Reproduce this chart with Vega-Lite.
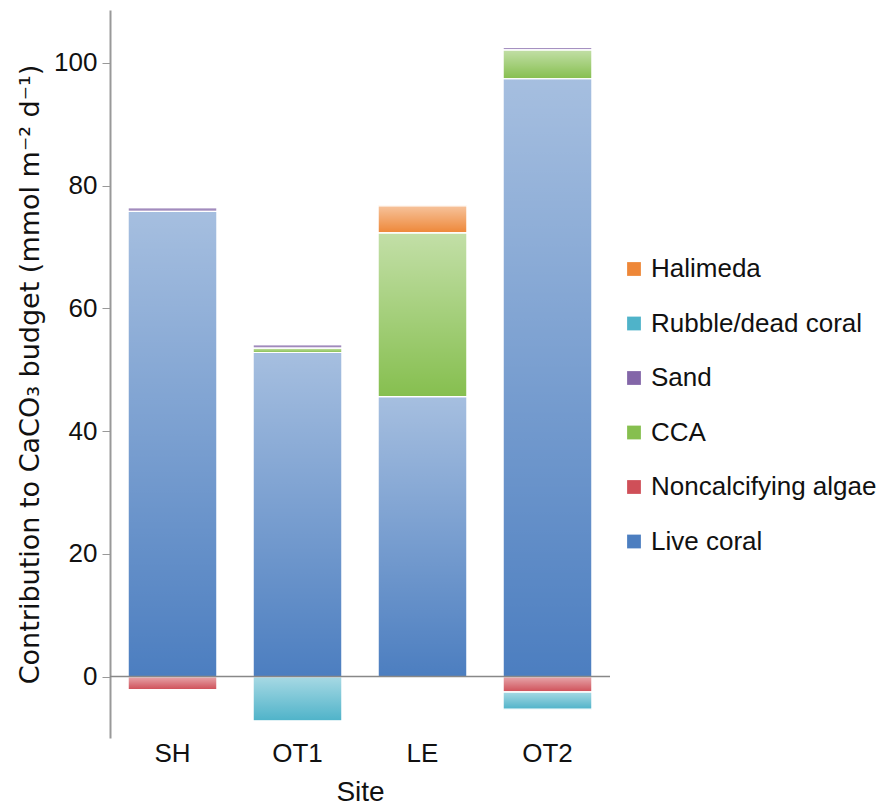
{
  "$schema": "https://vega.github.io/schema/vega-lite/v6.json",
  "width": 500,
  "height": 728,
  "autosize": {"type": "none"},
  "padding": {"left": 110, "top": 10, "right": 268, "bottom": 71},
  "background": "white",
  "config": {
    "view": {"stroke": null},
    "font": "Liberation Sans"
  },
  "data": {
    "values": [
      {"Site": "SH", "Component": "Live coral", "ord": 1, "value": 75.8},
      {"Site": "SH", "Component": "Sand", "ord": 4, "value": 0.6},
      {"Site": "SH", "Component": "Noncalcifying algae", "ord": 2, "value": -2.1},
      {"Site": "OT1", "Component": "Live coral", "ord": 1, "value": 52.8},
      {"Site": "OT1", "Component": "CCA", "ord": 3, "value": 0.7},
      {"Site": "OT1", "Component": "Sand", "ord": 4, "value": 0.6},
      {"Site": "OT1", "Component": "Rubble/dead coral", "ord": 5, "value": -7.2},
      {"Site": "LE", "Component": "Live coral", "ord": 1, "value": 45.6},
      {"Site": "LE", "Component": "CCA", "ord": 3, "value": 26.7},
      {"Site": "LE", "Component": "Halimeda", "ord": 6, "value": 4.4},
      {"Site": "OT2", "Component": "Live coral", "ord": 1, "value": 97.4},
      {"Site": "OT2", "Component": "CCA", "ord": 3, "value": 4.7},
      {"Site": "OT2", "Component": "Sand", "ord": 4, "value": 0.4},
      {"Site": "OT2", "Component": "Noncalcifying algae", "ord": 2, "value": -2.5},
      {"Site": "OT2", "Component": "Rubble/dead coral", "ord": 5, "value": -2.8}
    ]
  },
  "encoding": {
    "x": {
      "field": "Site",
      "type": "nominal",
      "scale": {"domain": ["SH", "OT1", "LE", "OT2"], "paddingInner": 0.29, "paddingOuter": 0.145},
      "axis": {
        "title": "Site",
        "titleFontSize": 28,
        "titleFontWeight": "normal",
        "titleColor": "#111",
        "titlePadding": 12,
        "labelFontSize": 26,
        "labelColor": "#111",
        "labelAngle": 0,
        "labelPadding": 2,
        "ticks": false,
        "domain": false
      }
    },
    "y": {
      "field": "value",
      "type": "quantitative",
      "aggregate": "sum",
      "stack": "zero",
      "scale": {"domain": [-10, 108.6], "nice": false, "zero": false},
      "axis": {
        "title": "Contribution to CaCO₃ budget (mmol m⁻² d⁻¹)",
        "titleFont": "DejaVu Sans",
        "titleFontSize": 27,
        "titleFontWeight": "normal",
        "titleColor": "#111",
        "titlePadding": 9,
        "values": [0, 20, 40, 60, 80, 100],
        "labelFontSize": 26,
        "labelColor": "#111",
        "labelPadding": 5,
        "tickSize": 8,
        "tickColor": "#999",
        "domainColor": "#999",
        "domainWidth": 2,
        "grid": false
      }
    },
    "order": {"field": "ord", "type": "quantitative"}
  },
  "layer": [
    {
      "mark": {"type": "bar"},
      "encoding": {
        "color": {
          "field": "Component",
          "type": "nominal",
          "scale": {
            "domain": ["Halimeda", "Rubble/dead coral", "Sand", "CCA", "Noncalcifying algae", "Live coral"],
            "range": ["#ee8738", "#4fb3c9", "#8366a8", "#86bf4f", "#cf4f58", "#4c7ec0"]
          },
          "legend": {
            "title": null,
            "orient": "none",
            "legendX": 511,
            "legendY": 246,
            "symbolType": "square",
            "symbolSize": 190,
            "symbolStrokeWidth": 0,
            "labelFontSize": 26,
            "labelColor": "#111",
            "labelOffset": 4,
            "labelLimit": 400,
            "rowPadding": 28.5
          }
        }
      }
    },
    {
      "mark": {
        "type": "bar",
        "stroke": "white",
        "strokeWidth": 1.2,
        "color": {
          "gradient": "linear",
          "x1": 0, "y1": 0, "x2": 0, "y2": 1,
          "stops": [
            {"offset": 0, "color": "rgba(255,255,255,0.5)"},
            {"offset": 1, "color": "rgba(255,255,255,0)"}
          ]
        }
      },
      "encoding": {
        "detail": {"field": "Component", "type": "nominal"}
      }
    },
    {
      "mark": {"type": "rule", "color": "#888", "strokeWidth": 1.5},
      "encoding": {
        "y": {"datum": 0},
        "x": null,
        "order": null
      }
    }
  ]
}
